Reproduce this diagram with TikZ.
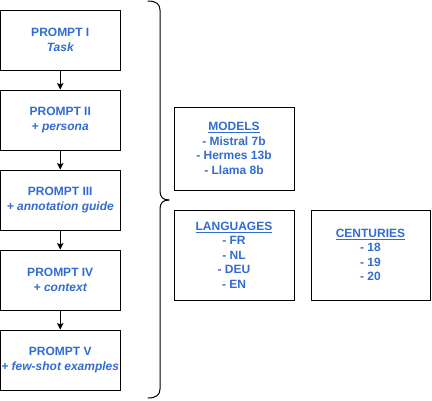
\documentclass[tikz,border=0pt]{standalone}
\usepackage{fontspec}
\setmainfont{Liberation Sans}
\usetikzlibrary{arrows.meta}
\definecolor{txtblue}{RGB}{51,108,209}
\tikzset{
  box/.style={draw=black, line width=1pt, fill=white, inner sep=0pt, align=center,
    text=txtblue, font=\fontsize{12}{14.5}\selectfont\bfseries},
  flow/.style={-{Stealth[length=6.5pt,width=6.5pt,inset=1.5pt]}, line width=1pt, black},
  brace/.style={draw=black, line width=1pt, line cap=round}
}
\begin{document}
\begin{tikzpicture}[x=1pt,y=-1pt]
\useasboundingbox (0,0) rectangle (432,400);
\node[box, minimum width=119.5pt, minimum height=60pt] (p1) at (60.25,40) {PROMPT I\\\itshape Task};
\node[box, minimum width=119.5pt, minimum height=60pt] (p2) at (60.25,120) {PROMPT II\\\itshape + persona};
\node[box, minimum width=119.5pt, minimum height=60pt] (p3) at (60.25,200) {PROMPT III\\\itshape + annotation guide};
\node[box, minimum width=119.5pt, minimum height=60pt] (p4) at (60.25,280) {PROMPT IV\\\itshape + context};
\node[box, minimum width=119.5pt, minimum height=60pt] (p5) at (60.25,360) {PROMPT V\\\itshape + few-shot examples};
\draw[flow] (p1) -- (p2);
\draw[flow] (p2) -- (p3);
\draw[flow] (p3) -- (p4);
\draw[flow] (p4) -- (p5);
\coordinate (btop) at (148,1);
\coordinate (btip) at (169,200);
\coordinate (bbot) at (148,398);
\draw[brace] (btop) .. controls (156,1) and (160,4) .. (160,10) -- (160,191)
  .. controls (160,197) and (163,200) .. (btip);
\draw[brace] (bbot) .. controls (156,398) and (160,395) .. (160,389) -- (160,209)
  .. controls (160,203) and (163,200) .. (btip);
\node[box, minimum width=120pt, minimum height=83pt] (models) at (234,148.5)
  {\underline{MODELS}\\- Mistral 7b\\- Hermes 13b\\- Llama 8b};
\node[box, minimum width=120pt, minimum height=90pt] (lang) at (234,255)
  {\underline{LANGUAGES}\\- FR\\- NL\\- DEU\\- EN};
\node[box, minimum width=119pt, minimum height=90pt] (cent) at (370.5,255)
  {\underline{CENTURIES}\\- 18\\- 19\\- 20};
\end{tikzpicture}
\end{document}
